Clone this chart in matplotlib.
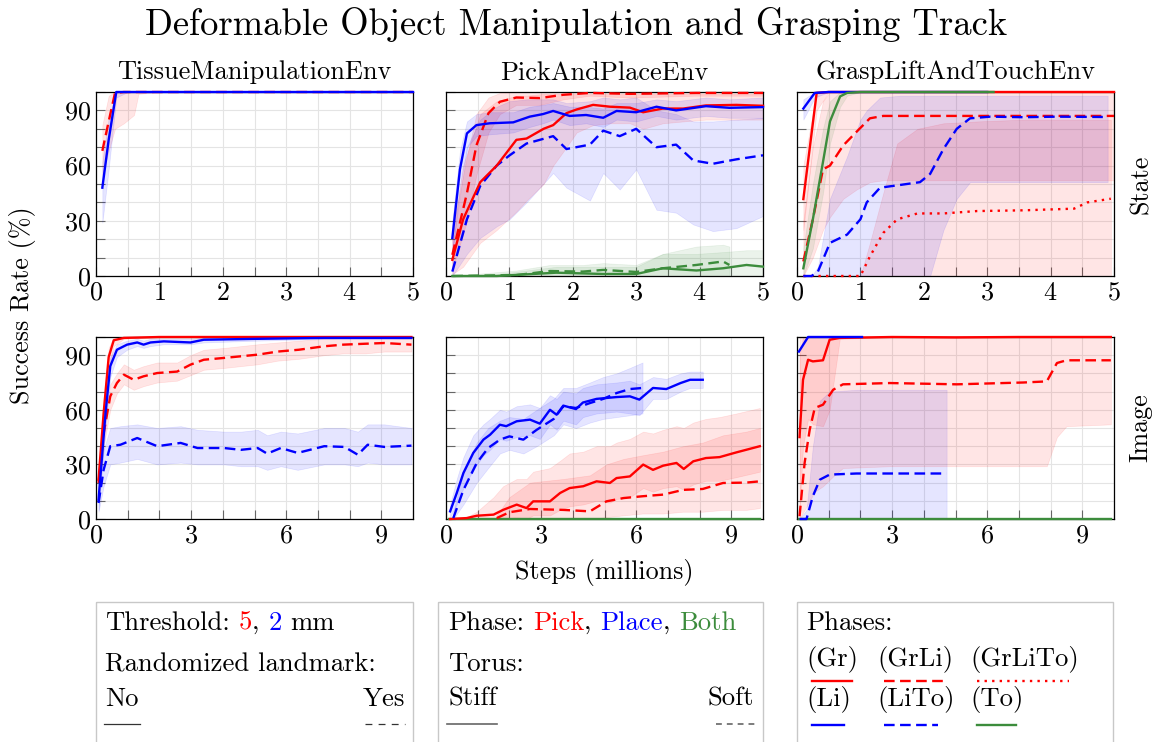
import numpy as np
import matplotlib
matplotlib.use('Agg')
import matplotlib.pyplot as plt
from matplotlib.ticker import MultipleLocator, FixedLocator
from matplotlib.patches import Rectangle

plt.rcParams['font.family'] = 'cmr10'
plt.rcParams['mathtext.fontset'] = 'cm'
plt.rcParams['axes.formatter.use_mathtext'] = True

RED = '#ff0000'
BLUE = '#0000ff'
GREEN = '#3c8c3c'
SOLID = '-'
DASHED = (0, (4.5, 2.3))
DOTTED = (0, (1, 2.2))

# ---------------- TissueManipulationEnv, state ----------------
tis_s_redd_x = [0.1, 0.2, 0.3, 0.44, 0.6, 0.67, 1, 2, 3, 4, 5]
tis_s_redd_y = [68, 84, 99.5, 100, 100, 100, 100, 100, 100, 100, 100]
tis_s_redd_lo = [55, 68, 80, 83, 87.5, 99, 100, 100, 100, 100, 100]
tis_s_redd_hi = [82, 98, 100, 100, 100, 100, 100, 100, 100, 100, 100]
tis_s_blue_x = [0.1, 0.2, 0.32, 0.5, 1, 2, 3, 4, 5]
tis_s_blue_y = [48, 74, 100, 100, 100, 100, 100, 100, 100]
tis_s_blue_lo = [29, 58, 97, 100, 100, 100, 100, 100, 100]
tis_s_blue_hi = [62, 86, 100, 100, 100, 100, 100, 100, 100]

# ---------------- PickAndPlaceEnv, state ----------------
pp_s_pick_x = [0.1, 0.27, 0.54, 0.8, 1.11, 1.27, 1.54, 1.69, 1.9, 2.06, 2.32, 2.59, 2.9, 3.11, 3.42, 3.74, 4.1, 4.58, 5]
pp_s_pick_y = [8.8, 30.8, 51, 60, 74, 74.7, 80, 82, 88.5, 90.5, 93, 92, 91.5, 89, 91, 91, 92.7, 93, 92.5]
pp_s_pick_lo = [1, 5, 18, 25, 35, 41, 50, 60, 70, 78, 82, 83, 83, 80, 83, 84, 85, 85, 85]
pp_s_pick_hi = [20, 60, 88, 95, 98, 98, 99, 99, 99, 99, 99, 99, 99, 99, 99, 99, 99, 99, 99]
pp_s_pickd_x = [0.1, 0.33, 0.48, 0.67, 0.85, 1.11, 1.48, 1.85, 2.27, 2.9, 3.95, 5]
pp_s_pickd_y = [11.5, 45, 71, 88.5, 94.7, 97, 96.7, 98.5, 99.5, 99, 99.5, 99.5]
pp_s_pickd_lo = [3, 30, 55, 78, 88, 93, 93, 96, 98, 97, 98, 98]
pp_s_pickd_hi = [25, 65, 88, 97, 99.5, 100, 100, 100, 100, 100, 100, 100]
pp_s_place_x = [0.1, 0.22, 0.33, 0.48, 0.69, 1.06, 1.32, 1.53, 1.69, 1.95, 2.21, 2.48, 2.69, 3.0, 3.32, 3.63, 4.1, 4.47, 5]
pp_s_place_y = [20.7, 58, 77.5, 82, 83, 83.5, 86.6, 88, 89.7, 87, 87.5, 86, 89.7, 89, 92, 90, 92.3, 91.4, 91.8]
pp_s_place_lo = [12, 48, 70, 76, 77, 78, 81, 83, 85, 82, 83, 81, 85, 84, 87, 85, 87, 86, 86]
pp_s_place_hi = [30, 68, 84, 88, 89, 89, 92, 93, 94, 92, 92, 91, 94, 94, 96, 95, 97, 96, 97]
pp_s_placed_x = [0.1, 0.33, 0.54, 0.8, 1.0, 1.27, 1.69, 1.9, 2.27, 2.48, 2.74, 3.0, 3.32, 3.63, 3.9, 4.21, 4.58, 5]
pp_s_placed_y = [2.4, 30.8, 49, 60, 65.5, 72, 76, 69, 71.4, 79, 76, 80, 70, 71.4, 62.8, 61, 63.4, 65.6]
pp_s_placed_lo = [0, 12, 20.7, 27, 30.8, 40, 56, 48, 41, 56, 47, 58, 36, 34.4, 28, 24.4, 26, 32.6]
pp_s_placed_hi = [15, 70, 85, 92, 95, 96, 96, 94, 95, 97, 96, 97, 90, 88, 84, 84, 85, 86]
pp_s_both_x = [0.1, 0.8, 1.74, 2.48, 3.0, 3.42, 3.95, 4.37, 4.74, 5]
pp_s_both_y = [0, 0, 1.8, 1.1, 1.1, 4.2, 3, 4.2, 6, 5.1]
pp_s_both_lo = [0, 0, 0, 0, 0, 0, 0, 0, 0, 0]
pp_s_both_hi = [0, 1, 5, 5, 5, 12, 12, 13, 14, 14]
pp_s_bothd_x = [0.1, 1.11, 1.64, 2.16, 2.48, 3.0, 3.42, 3.95, 4.37, 4.47]
pp_s_bothd_y = [0, 0.5, 2.7, 2.4, 3.3, 2.2, 4.2, 6, 7.9, 6]
pp_s_bothd_lo = [0, 0, 0, 0, 0, 0, 0, 0, 0, 0]
pp_s_bothd_hi = [0, 3, 6, 6, 7, 6, 12, 16, 17, 16]

# ---------------- GraspLiftAndTouchEnv, state ----------------
gl_s_gr_x = [0.1, 0.31, 0.5, 1, 2, 3, 4, 5]
gl_s_gr_y = [41.8, 99.5, 100, 100, 100, 100, 100, 100]
gl_s_gr_lo = [25, 90, 100, 100, 100, 100, 100, 100]
gl_s_gr_hi = [60, 100, 100, 100, 100, 100, 100, 100]
gl_s_grli_x = [0.1, 0.25, 0.41, 0.52, 0.73, 0.94, 1.15, 1.36, 2, 3, 4, 5]
gl_s_grli_y = [7.9, 30.8, 58, 60, 71, 78.4, 85.7, 87, 87, 87, 87, 87]
gl_s_grli_lo = [0, 10, 25, 32, 42, 47, 51, 52, 52, 52, 52, 52]
gl_s_grli_hi = [30, 70, 95, 100, 100, 100, 100, 100, 100, 100, 100, 100]
gl_s_grlito_x = [0.1, 1.0, 1.15, 1.36, 1.58, 1.9, 2.31, 2.84, 3.58, 4.37, 4.58, 4.95]
gl_s_grlito_y = [0, 0, 10.6, 23.4, 30.8, 34, 34, 35.3, 35.7, 36.6, 40, 42]
gl_s_grlito_lo = [0, 0, 0, 0, 0, 0, 0, 0, 0, 0, 0, 0]
gl_s_grlito_hi = [0, 0, 18, 45, 72, 80, 83, 84, 85, 85, 85, 85]
gl_s_li_x = [0.1, 0.28, 0.5, 1, 2, 3]
gl_s_li_y = [91, 99.5, 100, 100, 100, 100]
gl_s_li_lo = [85, 97, 100, 100, 100, 100]
gl_s_li_hi = [96, 100, 100, 100, 100, 100]
gl_s_lito_x = [0.1, 0.23, 0.33, 0.52, 0.79, 1.0, 1.1, 1.31, 1.63, 1.94, 2.1, 2.31, 2.52, 2.73, 3.05, 3.58, 4.1, 4.9]
gl_s_lito_y = [0, 0, 2.4, 18, 22.5, 30.8, 40, 48, 49.5, 51, 55.5, 69, 80, 85.7, 86.6, 86.3, 86.6, 86.4]
gl_s_lito_lo = [0, 0, 0, 0, 0, 0, 0, 0, 0, 0, 0, 25, 42, 51, 51, 51, 51, 51]
gl_s_lito_hi = [0, 0, 5, 42, 65, 85, 90, 97, 98, 98, 98, 98, 98, 98, 98, 98, 98, 98]
gl_s_to_x = [0.1, 0.25, 0.41, 0.52, 0.68, 0.79, 1.0, 2, 3.1]
gl_s_to_y = [4.2, 30.8, 62, 84, 97.6, 99.5, 100, 100, 100]
gl_s_to_lo = [0, 15, 45, 72, 92, 98, 100, 100, 100]
gl_s_to_hi = [15, 50, 80, 95, 100, 100, 100, 100, 100]

# ---------------- TissueManipulationEnv, image ----------------
tis_i_red_x = [0.08, 0.24, 0.4, 0.56, 0.88, 2, 4, 6, 8, 9.95]
tis_i_red_y = [21.6, 58, 89, 98.2, 99.5, 100, 100, 100, 100, 100]
tis_i_red_lo = [15, 50, 82, 95, 99, 100, 100, 100, 100, 100]
tis_i_red_hi = [28, 66, 94, 100, 100, 100, 100, 100, 100, 100]
tis_i_blue_x = [0.08, 0.3, 0.45, 0.66, 0.98, 1.3, 1.5, 1.72, 2.14, 2.98, 3.4, 5.1, 7.2, 9.95]
tis_i_blue_y = [10.6, 58, 84, 93, 95.8, 97, 95.8, 97, 97.6, 97, 98.5, 99, 99.5, 99.5]
tis_i_blue_lo = [5, 50, 78, 89, 93, 95, 94, 95, 96, 96, 97, 98, 99, 99]
tis_i_blue_hi = [16, 66, 89, 96, 98, 99, 98, 99, 99, 99, 99.5, 100, 100, 100]
tis_i_redd_x = [0.08, 0.24, 0.45, 0.66, 0.88, 1.19, 1.5, 1.93, 2.56, 2.98, 3.4, 4.04, 4.57, 5.1, 5.73, 6.4, 7.2, 7.8, 8.5, 9.1, 9.95]
tis_i_redd_y = [19.8, 47, 67.4, 74.7, 79.3, 76.5, 78.4, 80.2, 81, 84.8, 87.5, 88.5, 89.4, 90.3, 92, 93, 94.9, 95.8, 96.3, 96.7, 95.8]
tis_i_redd_lo = [14, 40, 60, 69, 74, 71, 73, 75, 76, 79, 82, 83, 84, 85, 87, 88, 90, 91, 91, 92, 92]
tis_i_redd_hi = [26, 54, 74, 80, 85, 82, 84, 86, 86, 90, 93, 94, 95, 96, 97, 98, 99, 99.5, 99.5, 99.5, 99]
tis_i_blued_x = [0.08, 0.24, 0.45, 0.77, 1.3, 1.93, 2.67, 3.2, 4.04, 4.57, 5.1, 5.4, 5.83, 6.36, 7.2, 7.84, 8.26, 8.57, 9.1, 9.95]
tis_i_blued_y = [8.8, 27, 40, 40.8, 44.5, 40, 41.8, 39, 39, 38, 39, 35.9, 39, 36.3, 40, 39.6, 35.3, 40.8, 39.6, 40.3]
tis_i_blued_lo = [4, 18, 30, 31, 33, 30, 31, 30, 30, 29, 29, 27, 29, 27, 30, 30, 29, 31, 30, 30]
tis_i_blued_hi = [14, 38, 50, 51, 52, 50, 51, 49, 48, 48, 49, 46, 48, 47, 50, 50, 48, 52, 52, 50]

# ---------------- PickAndPlaceEnv, image ----------------
pp_i_place_x = [0.13, 0.34, 0.55, 0.86, 1.18, 1.39, 1.7, 1.9, 2.23, 2.65, 2.96, 3.28, 3.49, 3.7, 4.1, 4.32, 4.75, 5.38, 5.8, 6.1, 6.53, 6.95, 7.4, 7.7, 8.1]
pp_i_place_y = [4.2, 14.3, 25.3, 36.3, 43.6, 46.3, 51.8, 51, 53.7, 54.6, 52.4, 60, 57.3, 62.3, 60.4, 64, 66, 67, 67.4, 65.6, 72, 71.4, 74.7, 76.5, 76.5]
pp_i_place_lo = [1, 8, 17, 27, 35, 38, 44, 43, 45, 46, 44, 52, 49, 54, 52, 56, 58, 59, 58, 57, 66, 66, 70, 72, 72]
pp_i_place_hi = [8, 22, 34, 46, 52, 55, 60, 59, 62, 63, 61, 68, 66, 70, 69, 72, 74, 75, 76, 74, 78, 77, 80, 81, 81]
pp_i_placed_x = [0.23, 0.55, 0.97, 1.33, 1.7, 2.0, 2.44, 2.86, 3.4, 3.7, 4.1, 4.54, 4.96, 5.38, 5.8, 6.2]
pp_i_placed_y = [0.5, 16, 30.8, 39, 43.6, 45.4, 43.6, 49, 55, 61.9, 61, 63.7, 66, 69.2, 71.4, 72]
pp_i_placed_lo = [0, 8, 20, 28, 36, 38, 36, 40, 46, 52, 50, 53, 55, 56, 57, 58]
pp_i_placed_hi = [4, 26, 42, 50, 54, 56, 55, 60, 66, 72, 72, 75, 78, 80, 83, 86]
pp_i_pick_x = [0.13, 0.65, 0.97, 1.5, 1.8, 2.23, 2.54, 2.75, 3.28, 3.6, 3.9, 4.33, 4.75, 5.17, 5.38, 5.8, 6.22, 6.53, 6.85, 7.27, 7.5, 7.8, 8.2, 8.63, 9.16, 9.9]
pp_i_pick_y = [0, 0.5, 1.8, 2.4, 5, 7.9, 6, 9.7, 9.7, 14.3, 17, 18, 20.7, 19.8, 22.5, 23.4, 29.9, 27, 29.3, 30.8, 27.5, 31.7, 33.5, 34, 36.6, 40]
pp_i_pick_lo = [0, 0, 0, 0, 0, 1, 0, 2, 2, 5, 7, 8, 10, 9, 11, 12, 17, 15, 17, 18, 16, 19, 21, 21, 23, 26]
pp_i_pick_hi = [0, 1, 4, 12, 18, 22, 22, 26, 28, 32, 36, 37, 40, 40, 42, 44, 48, 47, 49, 51, 50, 53, 55, 56, 58, 61]
pp_i_pickd_x = [1.6, 2.0, 2.65, 3.7, 4.54, 5.06, 5.6, 6.2, 6.85, 7.48, 8.1, 8.74, 9.47, 9.9]
pp_i_pickd_y = [0.5, 3.7, 5.5, 5, 4.2, 9.7, 11.5, 12.5, 13.4, 16, 16.5, 19.8, 20, 20.7]
pp_i_pickd_lo = [0, 0, 0, 0, 0, 1, 2, 3, 3, 4, 4, 5, 5, 6]
pp_i_pickd_hi = [2, 12, 20, 22, 24, 30, 33, 35, 37, 40, 42, 46, 48, 50]
pp_i_both_x = [0.1, 9.9]
pp_i_both_y = [0, 0]

# ---------------- GraspLiftAndTouchEnv, image ----------------
gl_i_li_x = [0.06, 0.35, 1, 2.05]
gl_i_li_y = [92, 100, 100, 100]
gl_i_gr_x = [0.08, 0.19, 0.35, 0.5, 0.82, 1.03, 1.35, 3, 5, 7, 9.9]
gl_i_gr_y = [45, 76.5, 87.5, 86.6, 87.2, 98.5, 99.5, 100, 99.8, 100, 100]
gl_i_gr_lo = [5, 40, 55, 52, 51, 60, 99, 100, 99.5, 100, 100]
gl_i_gr_hi = [90, 100, 100, 100, 100, 100, 100, 100, 100, 100, 100]
gl_i_grli_x = [0.08, 0.24, 0.4, 0.56, 0.82, 1.14, 1.45, 2.93, 5.04, 7.14, 7.88, 8.2, 8.5, 9.9]
gl_i_grli_y = [1.5, 30.8, 49, 61, 62.8, 71, 74, 74.7, 74, 75, 75.6, 85.7, 87.2, 87.2]
gl_i_grli_lo = [0, 5, 10, 15, 18, 23.4, 28, 29, 29, 29, 29, 45, 51, 52]
gl_i_grli_hi = [100, 100, 100, 100, 100, 100, 100, 100, 100, 100, 100, 100, 100, 100]
gl_i_lito_x = [0.08, 0.3, 0.5, 0.72, 1.03, 1.88, 4.72]
gl_i_lito_y = [0, 0, 12.5, 21.6, 24.4, 25, 25]
gl_i_lito_lo = [0, 0, 0, 0, 0, 0, 0]
gl_i_lito_hi = [0, 5, 40, 65, 70, 71, 71]
gl_i_to_x = [0.05, 9.9]
gl_i_to_y = [0, 0]

col_titles = ['TissueManipulationEnv', 'PickAndPlaceEnv', 'GraspLiftAndTouchEnv']
row_titles = ['State', 'Image']
state_xticks = [0, 1, 2, 3, 4, 5]
image_xticks = [0, 3, 6, 9]
yticks = [0, 30, 60, 90]

# (x, y, lo, hi, colour, style), drawn in this order
panels = [
    [(tis_s_redd_x, tis_s_redd_y, tis_s_redd_lo, tis_s_redd_hi, RED, DASHED),
     (tis_s_blue_x, tis_s_blue_y, tis_s_blue_lo, tis_s_blue_hi, BLUE, SOLID)],
    [(pp_s_bothd_x, pp_s_bothd_y, pp_s_bothd_lo, pp_s_bothd_hi, GREEN, DASHED),
     (pp_s_both_x, pp_s_both_y, pp_s_both_lo, pp_s_both_hi, GREEN, SOLID),
     (pp_s_pickd_x, pp_s_pickd_y, pp_s_pickd_lo, pp_s_pickd_hi, RED, DASHED),
     (pp_s_placed_x, pp_s_placed_y, pp_s_placed_lo, pp_s_placed_hi, BLUE, DASHED),
     (pp_s_pick_x, pp_s_pick_y, pp_s_pick_lo, pp_s_pick_hi, RED, SOLID),
     (pp_s_place_x, pp_s_place_y, pp_s_place_lo, pp_s_place_hi, BLUE, SOLID)],
    [(gl_s_grlito_x, gl_s_grlito_y, gl_s_grlito_lo, gl_s_grlito_hi, RED, DOTTED),
     (gl_s_grli_x, gl_s_grli_y, gl_s_grli_lo, gl_s_grli_hi, RED, DASHED),
     (gl_s_lito_x, gl_s_lito_y, gl_s_lito_lo, gl_s_lito_hi, BLUE, DASHED),
     (gl_s_gr_x, gl_s_gr_y, gl_s_gr_lo, gl_s_gr_hi, RED, SOLID),
     (gl_s_li_x, gl_s_li_y, gl_s_li_lo, gl_s_li_hi, BLUE, SOLID),
     (gl_s_to_x, gl_s_to_y, gl_s_to_lo, gl_s_to_hi, GREEN, SOLID)],
    [(tis_i_blued_x, tis_i_blued_y, tis_i_blued_lo, tis_i_blued_hi, BLUE, DASHED),
     (tis_i_redd_x, tis_i_redd_y, tis_i_redd_lo, tis_i_redd_hi, RED, DASHED),
     (tis_i_red_x, tis_i_red_y, tis_i_red_lo, tis_i_red_hi, RED, SOLID),
     (tis_i_blue_x, tis_i_blue_y, tis_i_blue_lo, tis_i_blue_hi, BLUE, SOLID)],
    [(pp_i_both_x, pp_i_both_y, None, None, GREEN, SOLID),
     (pp_i_pickd_x, pp_i_pickd_y, pp_i_pickd_lo, pp_i_pickd_hi, RED, DASHED),
     (pp_i_pick_x, pp_i_pick_y, pp_i_pick_lo, pp_i_pick_hi, RED, SOLID),
     (pp_i_placed_x, pp_i_placed_y, pp_i_placed_lo, pp_i_placed_hi, BLUE, DASHED),
     (pp_i_place_x, pp_i_place_y, pp_i_place_lo, pp_i_place_hi, BLUE, SOLID)],
    [(gl_i_to_x, gl_i_to_y, None, None, GREEN, SOLID),
     (gl_i_lito_x, gl_i_lito_y, gl_i_lito_lo, gl_i_lito_hi, BLUE, DASHED),
     (gl_i_grli_x, gl_i_grli_y, gl_i_grli_lo, gl_i_grli_hi, RED, DASHED),
     (gl_i_gr_x, gl_i_gr_y, gl_i_gr_lo, gl_i_gr_hi, RED, SOLID),
     (gl_i_li_x, gl_i_li_y, None, None, BLUE, SOLID)],
]

W, H = 1153, 742
fig = plt.figure(figsize=(W / 100, H / 100), dpi=100)

col_left = [96, 446, 797]
col_w = 317
row_top = [92, 337]
row_h = [184, 182]

FS = 18.8
LFS = 19.2


def draw_panel(ax, series):
    for x, y, lo, hi, c, ls in series:
        if lo is not None:
            ax.fill_between(x, lo, hi, color=c, alpha=0.1, lw=0.5)
    for x, y, lo, hi, c, ls in series:
        ax.plot(x, y, color=c, ls=ls, lw=1.7, clip_on=False, zorder=3)


for r in range(2):
    for c in range(3):
        ax = fig.add_axes([col_left[c] / W, 1 - (row_top[r] + row_h[r]) / H,
                           col_w / W, row_h[r] / H])
        draw_panel(ax, panels[r * 3 + c])
        ax.set_ylim(0, 100)
        ax.yaxis.set_major_locator(FixedLocator(yticks))
        ax.yaxis.set_minor_locator(MultipleLocator(10))
        if r == 0:
            ax.set_xlim(0, 5)
            ax.xaxis.set_major_locator(FixedLocator(state_xticks))
            ax.xaxis.set_minor_locator(MultipleLocator(0.5))
        else:
            ax.set_xlim(0, 10)
            ax.xaxis.set_major_locator(FixedLocator(image_xticks))
            ax.xaxis.set_minor_locator(MultipleLocator(1))
        ax.grid(which='both', color='#e4e4e4', lw=0.8)
        ax.set_axisbelow(True)
        ax.tick_params(which='both', direction='in', length=6.5, width=0.8,
                       color='#666666', labelsize=FS, pad=3.5)
        ax.tick_params(labelleft=(c == 0))
        for sp in ax.spines.values():
            sp.set_linewidth(0.9)
        if r == 0:
            ax.set_title(col_titles[c], fontsize=19, pad=9)
        if c == 2:
            ax.text(1.085, 0.5, row_titles[r], transform=ax.transAxes,
                    rotation=90, va='center', ha='center', fontsize=FS)

fig.text(0.5, 1 - 24 / H, 'Deformable Object Manipulation and Grasping Track',
         ha='center', va='center', fontsize=26.3)
fig.text(23 / W, 1 - 305 / H, 'Success Rate (%)', rotation=90,
         ha='center', va='center', fontsize=FS)
fig.text(604 / W, 1 - 572 / H, 'Steps (millions)', ha='center', va='center',
         fontsize=FS)

# legend boxes drawn on an overlay in pixel units
lg = fig.add_axes([0, 0, 1, 1])
lg.set_xlim(0, W)
lg.set_ylim(H, 0)
lg.axis('off')
for x0, x1 in [(96, 413), (438, 763), (797, 1113)]:
    lg.add_patch(Rectangle((x0, 602), x1 - x0, 200, fill=False,
                           ec='#c8c8c8', lw=1.0, clip_on=False))

renderer = fig.canvas.get_renderer()


def text_width(s):
    t = lg.text(0, 0, s, fontsize=LFS)
    w = t.get_window_extent(renderer=renderer).width
    t.remove()
    return w


def seq_text(x0, y, parts):
    full = ''
    for s, col in parts:
        full += s
        core = s.lstrip()
        x = x0 + text_width(full) - text_width(core)
        lg.text(x, y, core, color=col, fontsize=LFS, va='baseline', ha='left')


seq_text(105, 630, [('Threshold:', 'black'), (' 5', RED), (',', 'black'),
                    (' 2', BLUE), (' mm', 'black')])
lg.text(105, 671, 'Randomized landmark:', fontsize=LFS, va='baseline')
lg.text(105, 706, 'No', fontsize=LFS, va='baseline')
lg.text(405, 706, 'Yes', fontsize=LFS, va='baseline', ha='right')
lg.plot([104, 140], [724, 724], color='#333333', lw=0.9)
lg.plot([365, 405], [724, 724], color='#333333', lw=0.9, ls=(0, (5.5, 5)))

seq_text(448, 630, [('Phase:', 'black'), (' Pick', RED), (',', 'black'),
                    (' Place', BLUE), (',', 'black'), (' Both', GREEN)])
lg.text(448, 671, 'Torus:', fontsize=LFS, va='baseline')
lg.text(448, 706, 'Stiff', fontsize=LFS, va='baseline')
lg.text(754, 706, 'Soft', fontsize=LFS, va='baseline', ha='right')
lg.plot([447, 497], [724, 724], color='#666666', lw=1.2)
lg.plot([716, 757], [724, 724], color='#666666', lw=1.2, ls=(0, (3.5, 3)))

lg.text(806, 630, 'Phases:', fontsize=LFS, va='baseline')
for x0, lab in [(806, '(Gr)'), (877, '(GrLi)'), (970, '(GrLiTo)')]:
    lg.text(x0, 666, lab, fontsize=LFS, va='baseline')
for x0, lab in [(806, '(Li)'), (877, '(LiTo)'), (970, '(To)')]:
    lg.text(x0, 706, lab, fontsize=LFS, va='baseline')
lg.plot([812, 852], [681, 681], color=RED, lw=1.7)
lg.plot([884, 947], [681, 681], color=RED, lw=1.7, ls=DASHED)
lg.plot([977, 1069], [681, 681], color=RED, lw=1.7, ls=DOTTED)
lg.plot([812, 844], [725, 725], color=BLUE, lw=1.7)
lg.plot([884, 938], [725, 725], color=BLUE, lw=1.7, ls=DASHED)
lg.plot([977, 1016], [725, 725], color=GREEN, lw=1.7)

fig.savefig('out.png', dpi=100)
